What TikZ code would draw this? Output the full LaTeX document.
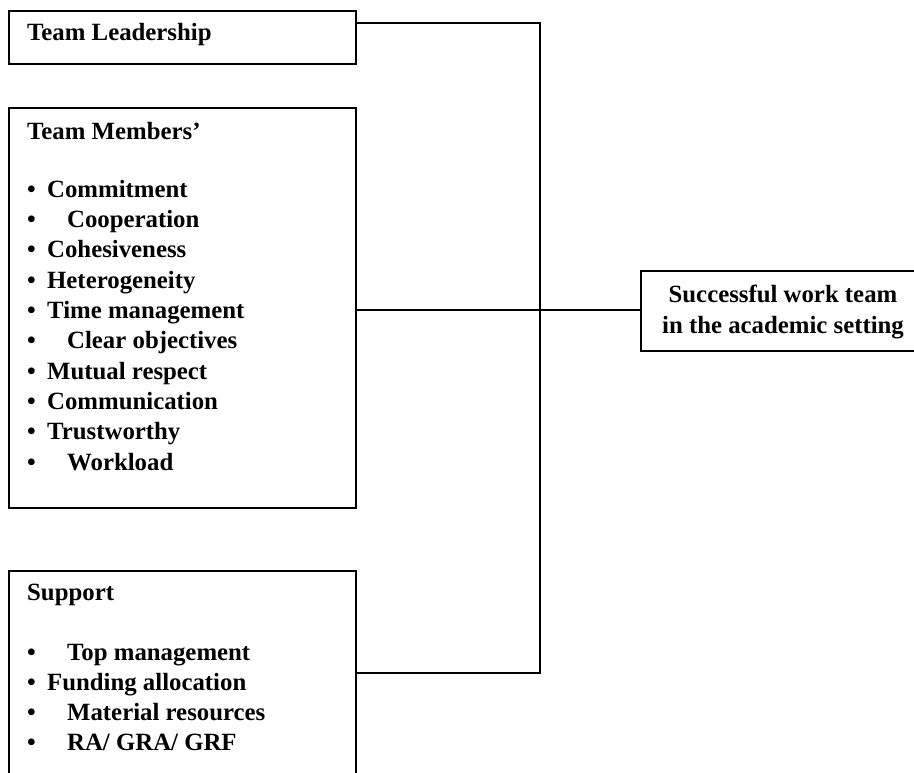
\documentclass[tikz,border=0pt]{standalone}
\usepackage{fontspec}
\setmainfont{Liberation Serif}
\begin{document}
\begin{tikzpicture}[x=1pt,y=-1pt,
  frame/.style={draw=black, line width=2pt, fill=none, inner sep=0pt, anchor=north west},
  link/.style={draw=black, line width=2pt},
  txt/.style={anchor=base west, inner sep=0pt, align=left,
    font=\bfseries\fontsize{24.8}{30.3}\selectfont},
  ctxt/.style={anchor=base, inner sep=0pt, align=center,
    font=\bfseries\fontsize{24.8}{30.8}\selectfont}
]
\newcommand{\itm}[1]{\makebox[20pt][l]{\textbullet}#1}
\newcommand{\itmi}[1]{\makebox[40pt][l]{\textbullet}#1}

\useasboundingbox (0,0) rectangle (914,773);
\clip (0,0) rectangle (914,773);

% boxes
\node[frame, minimum width=347pt, minimum height=53pt]  (lead) at (8,10) {};
\node[frame, minimum width=347pt, minimum height=400pt] (memb) at (8,107) {};
\node[frame, minimum width=347pt, minimum height=260pt] (supp) at (8,570) {};
\node[frame, minimum width=286pt, minimum height=80pt]  (goal) at (640,270) {};

% box texts (each anchored at the baseline of its last line)
\node[txt] (leadtxt) at (27,41) {Team Leadership};
\node[txt] (membtxt) at (27,470) {Team Members'\\[27.7pt]
  \itm{Commitment}\\
  \itmi{Cooperation}\\
  \itm{Cohesiveness}\\
  \itm{Heterogeneity}\\
  \itm{Time management}\\
  \itmi{Clear objectives}\\
  \itm{Mutual respect}\\
  \itm{Communication}\\
  \itm{Trustworthy}\\
  \itmi{Workload}};
\node[txt, font=\bfseries\fontsize{24.8}{30}\selectfont] (supptxt) at (27,750) {Support\\[30pt]
  \itmi{Top management}\\
  \itm{Funding allocation}\\
  \itmi{Material resources}\\
  \itmi{RA/ GRA/ GRF}};
\node[ctxt] (goaltxt) at (783,333) {Successful work team\\in the academic setting};

% connectors
\coordinate (jtop) at (540,23);
\coordinate (jbot) at (540,673);
\draw[link] (lead.east |- jtop) -- (jtop) -- (jbot) -- (supp.east |- jbot);
\draw[link] (memb.east |- 0,310) -- (goal.west |- 0,310);
\end{tikzpicture}
\end{document}
